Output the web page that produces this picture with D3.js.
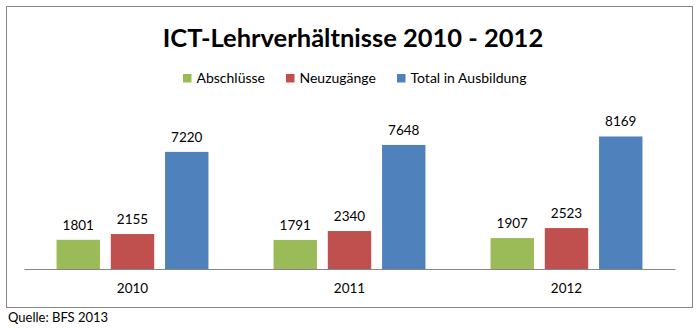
<!DOCTYPE html>
<html>
<head>
<meta charset="utf-8">
<script src="https://cdn.jsdelivr.net/npm/d3@7"></script>
<style>
  body { margin: 0; background: #fff; }
  svg text { font-family: Lato, "Open Sans", sans-serif; fill: #000; }
</style>
</head>
<body>
<div id="container"></div>
<script>
var years = ["2010", "2011", "2012"];
var seriesNames = ["Abschlüsse", "Neuzugänge", "Total in Ausbildung"];
var seriesColors = ["#9BBB59", "#C0504D", "#4F81BD"];
var abschluesse = [1801, 1791, 1907];
var neuzugaenge = [2155, 2340, 2523];
var total = [7220, 7648, 8169];

var width = 700;
var height = 328;

var svg = d3
  .select("#container")
  .append("svg")
  .attr("width", width)
  .attr("height", height);

// chart frame
svg
  .append("rect")
  .attr("x", 6.5)
  .attr("y", 6.5)
  .attr("width", 686)
  .attr("height", 301)
  .attr("fill", "#fff")
  .attr("stroke", "#868686")
  .attr("stroke-width", 1);

svg
  .append("text")
  .attr("x", 353)
  .attr("y", 47)
  .attr("text-anchor", "middle")
  .style("font-size", "25.5px")
  .style("font-weight", "bold")
  .text("ICT-Lehrverhältnisse 2010 - 2012");

var data = years.map(function(y, i) {
  return { year: y, values: [abschluesse[i], neuzugaenge[i], total[i]] };
});

var x = d3.scaleBand().domain(years).range([24, 675]);
var xs = d3
  .scaleBand()
  .domain(d3.range(seriesNames.length))
  .range([0, x.bandwidth()])
  .paddingInner(0.2)
  .paddingOuter(0.6);
var y = d3.scaleLinear().domain([0, 9000]).range([269, 123]);

// legend
var legendX = [183, 286, 397];
var legend = svg
  .selectAll(".legend")
  .data(seriesNames)
  .enter()
  .append("g")
  .attr("class", "legend")
  .attr("transform", (d, i) => "translate(" + legendX[i] + ",74)");
legend
  .append("rect")
  .attr("width", 8.5)
  .attr("height", 8.5)
  .attr("fill", (d, i) => seriesColors[i]);
legend
  .append("text")
  .attr("x", 13.5)
  .attr("y", 8.5)
  .style("font-size", "14px")
  .text(d => d);

var groups = svg
  .selectAll(".year")
  .data(data)
  .enter()
  .append("g")
  .attr("class", "year")
  .attr("transform", d => "translate(" + x(d.year) + ",0)");

groups
  .selectAll("rect")
  .data(d => d.values)
  .enter()
  .append("rect")
  .attr("x", (d, i) => xs(i))
  .attr("y", d => y(d))
  .attr("width", xs.bandwidth())
  .attr("height", d => y(0) - y(d))
  .attr("fill", (d, i) => seriesColors[i]);

groups
  .selectAll(".val")
  .data(d => d.values)
  .enter()
  .append("text")
  .attr("class", "val")
  .attr("x", (d, i) => xs(i) + xs.bandwidth() / 2)
  .attr("y", d => y(d) - 10)
  .attr("text-anchor", "middle")
  .style("font-size", "13.5px")
  .text(d => d);

var xAxis = svg
  .append("g")
  .attr("transform", "translate(0," + y(0) + ")")
  .call(d3.axisBottom(x).tickSize(0).tickPadding(14));
xAxis.select(".domain").attr("stroke", "#868686");
xAxis.selectAll("text").style("font-size", "13.5px").style("font-family", "Lato, sans-serif");

svg
  .append("text")
  .attr("x", 8)
  .attr("y", 322)
  .style("font-size", "13px")
  .text("Quelle: BFS 2013");
</script>
</body>
</html>
